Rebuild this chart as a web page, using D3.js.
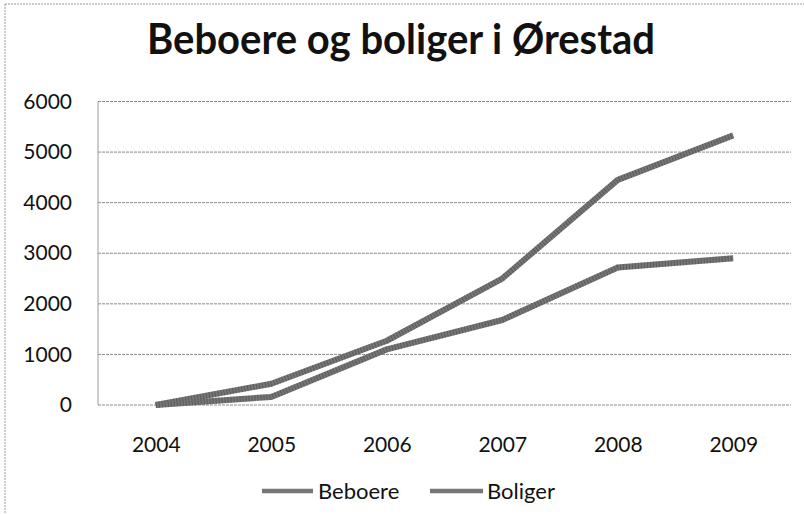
<!DOCTYPE html>
<html><head><meta charset="utf-8">
<script src="https://cdn.jsdelivr.net/npm/d3@7"></script>
<style>html,body{margin:0;padding:0;background:#fff;}svg{display:block;}</style>
</head><body>
<svg id="c" width="804" height="514"></svg>
<script>
const years = ["2004","2005","2006","2007","2008","2009"];
const beboere = [0, 420, 1270, 2500, 4450, 5330];
const boliger = [0, 160, 1100, 1680, 2720, 2900];
const yTicks = [0,1000,2000,3000,4000,5000,6000];
const seriesNames = ["Beboere","Boliger"];

const svg = d3.select("#c");
const font = "Lato, 'Open Sans', sans-serif";
const plotLeft = 98, plotRight = 791, plotTop = 101.5, plotBottom = 405;

// outer frame (left and top edges visible)
svg.append("line").attr("x1",5).attr("x2",5).attr("y1",4).attr("y2",514)
  .attr("stroke","#999").attr("stroke-width",1).attr("stroke-dasharray","2,1");
svg.append("line").attr("x1",5).attr("x2",804).attr("y1",4).attr("y2",4)
  .attr("stroke","#999").attr("stroke-width",1).attr("stroke-dasharray","2,1");

const x = d3.scalePoint().domain(years).range([plotLeft, plotRight]).padding(0.5);
const y = d3.scaleLinear().domain([0,6000]).range([plotBottom, plotTop]);

// gridlines
svg.append("g").selectAll("line").data(yTicks).join("line")
  .attr("x1",plotLeft).attr("x2",plotRight)
  .attr("y1",d=>y(d)).attr("y2",d=>y(d))
  .attr("stroke","#8a8a8a").attr("stroke-width",1).attr("stroke-dasharray","3,1");

// left axis line
svg.append("line").attr("x1",plotLeft).attr("x2",plotLeft).attr("y1",plotTop).attr("y2",plotBottom)
  .attr("stroke","#9a9a9a").attr("stroke-width",1);

// y axis labels
const yAxis = d3.axisLeft(y).tickValues(yTicks).tickSize(0).tickPadding(26).tickFormat(d3.format("d"));
const gy = svg.append("g").attr("transform",`translate(${plotLeft},0)`).call(yAxis);
gy.select(".domain").remove();
gy.selectAll("text").attr("font-family",font).attr("font-size",21).attr("fill","#111");

// x axis labels
const xAxis = d3.axisBottom(x).tickSize(0).tickPadding(32);
const gx = svg.append("g").attr("transform",`translate(0,${plotBottom})`).call(xAxis);
gx.select(".domain").remove();
gx.selectAll("text").attr("font-family",font).attr("font-size",21).attr("fill","#111");

// lines
const line = d3.line().x((d,i)=>x(years[i])).y(d=>y(d));
[beboere, boliger].forEach(s=>{
  svg.append("path").datum(s).attr("d",line)
    .attr("fill","none").attr("stroke","#767676").attr("stroke-width",6)
    .attr("stroke-linejoin","round");
  svg.append("path").datum(s).attr("d",line)
    .attr("fill","none").attr("stroke","#333").attr("stroke-width",6)
    .attr("stroke-dasharray","1,2").attr("opacity",0.4);
});

// title
svg.append("text").attr("x",401).attr("y",54).attr("text-anchor","middle")
  .attr("font-family",font).attr("font-weight","bold").attr("font-size",42)
  .attr("fill","#111").attr("textLength",508).attr("lengthAdjust","spacingAndGlyphs")
  .text("Beboere og boliger i Ørestad");

// legend
const legend = [{name:seriesNames[0], x1:262, x2:313, tx:318},{name:seriesNames[1], x1:430, x2:483, tx:487}];
const lg = svg.append("g");
legend.forEach(l=>{
  lg.append("line").attr("x1",l.x1).attr("x2",l.x2).attr("y1",491).attr("y2",491)
    .attr("stroke","#767676").attr("stroke-width",4.5);
  lg.append("text").attr("x",l.tx).attr("y",499).attr("font-family",font)
    .attr("font-size",22).attr("fill","#111").text(l.name);
});
</script>
</body></html>
